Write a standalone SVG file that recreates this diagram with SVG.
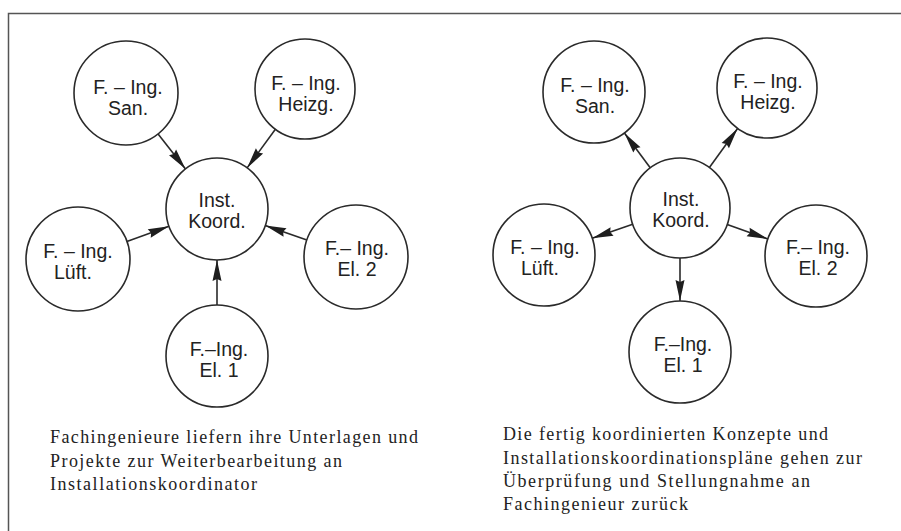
<svg xmlns="http://www.w3.org/2000/svg" width="901" height="531" viewBox="0 0 901 531">
<style>
.node circle{fill:#fff;stroke:#2a2a2a;stroke-width:1.6}
.node text{font-family:"Liberation Sans",Arial,sans-serif;font-size:19.5px;fill:#222;text-anchor:middle}
.conn line{stroke:#2a2a2a;stroke-width:1.6;marker-end:url(#ah)}
.cap{font-family:"Liberation Serif","Times New Roman",serif;font-size:18px;fill:#222}
.frame{stroke:#555;stroke-width:1.5;fill:none}
</style>
<defs>
<marker id="ah" markerUnits="userSpaceOnUse" markerWidth="24" markerHeight="12" refX="21" refY="4.5" orient="auto" overflow="visible">
<path d="M0,0 L21,4.5 L0,9 L2,4.5 z" fill="#1e1e1e"/>
</marker>
</defs>
<rect width="901" height="531" fill="#fff"/>
<path class="frame" d="M8.5,531 V13.5 H901"/>

<g id="connectors-left" class="conn">
<line x1="158.1" y1="133.9" x2="185.5" y2="168.9"/>
<line x1="275.4" y1="129.3" x2="247.1" y2="167.9"/>
<line x1="126.9" y1="241.4" x2="169.0" y2="226.3"/>
<line x1="306.9" y1="240.0" x2="265.2" y2="225.6"/>
<line x1="217" y1="305" x2="217" y2="260"/>
</g>
<g id="connectors-right" class="conn">
<line x1="650.2" y1="167.8" x2="624.4" y2="133.0"/>
<line x1="709.4" y1="167.5" x2="737.6" y2="128.5"/>
<line x1="632.7" y1="224.3" x2="592.2" y2="238.3"/>
<line x1="727.2" y1="224.6" x2="767.9" y2="239.0"/>
<line x1="680" y1="258" x2="680" y2="301"/>
</g>

<g id="L-koord" class="node"><circle cx="217" cy="209" r="51"/><text x="217" y="207">Inst.</text><text x="217" y="228">Koord.</text></g>
<g id="L-san" class="node"><circle cx="126" cy="93" r="52"/><text x="128" y="94">F. – Ing.</text><text x="128" y="115">San.</text></g>
<g id="L-heizg" class="node"><circle cx="305" cy="89" r="50"/><text x="306" y="90">F. – Ing.</text><text x="306" y="111">Heizg.</text></g>
<g id="L-lueft" class="node"><circle cx="78" cy="259" r="52"/><text x="78" y="258">F. – Ing.</text><text x="73" y="279">Lüft.</text></g>
<g id="L-el2" class="node"><circle cx="356" cy="257" r="52"/><text x="357" y="255">F.– Ing.</text><text x="357" y="276">El. 2</text></g>
<g id="L-el1" class="node"><circle cx="217" cy="356" r="51"/><text x="219" y="356">F.–Ing.</text><text x="219" y="377">El. 1</text></g>

<g id="R-koord" class="node"><circle cx="680" cy="208" r="50"/><text x="681" y="206">Inst.</text><text x="681" y="227">Koord.</text></g>
<g id="R-san" class="node"><circle cx="594" cy="92" r="51"/><text x="595" y="92">F. – Ing.</text><text x="595" y="113">San.</text></g>
<g id="R-heizg" class="node"><circle cx="767" cy="88" r="50"/><text x="768" y="88">F. – Ing.</text><text x="768" y="109">Heizg.</text></g>
<g id="R-lueft" class="node"><circle cx="544" cy="255" r="51"/><text x="545" y="254">F. – Ing.</text><text x="540" y="275">Lüft.</text></g>
<g id="R-el2" class="node"><circle cx="816" cy="256" r="51"/><text x="818" y="254">F.– Ing.</text><text x="818" y="275">El. 2</text></g>
<g id="R-el1" class="node"><circle cx="680" cy="352" r="51"/><text x="683" y="351">F.–Ing.</text><text x="683" y="372">El. 1</text></g>

<g id="caption-left">
<text class="cap" x="50" y="443" textLength="368" lengthAdjust="spacing">Fachingenieure liefern ihre Unterlagen und</text>
<text class="cap" x="50" y="467" textLength="292" lengthAdjust="spacing">Projekte zur Weiterbearbeitung an</text>
<text class="cap" x="50" y="490" textLength="207" lengthAdjust="spacing">Installationskoordinator</text>
</g>
<g id="caption-right">
<text class="cap" x="503" y="440" textLength="325" lengthAdjust="spacing">Die fertig koordinierten Konzepte und</text>
<text class="cap" x="503" y="463.5" textLength="359" lengthAdjust="spacing">Installationskoordinationspläne gehen zur</text>
<text class="cap" x="503" y="486.5" textLength="307" lengthAdjust="spacing">Überprüfung und Stellungnahme an</text>
<text class="cap" x="503" y="509.5" textLength="185" lengthAdjust="spacing">Fachingenieur zurück</text>
</g>
</svg>
